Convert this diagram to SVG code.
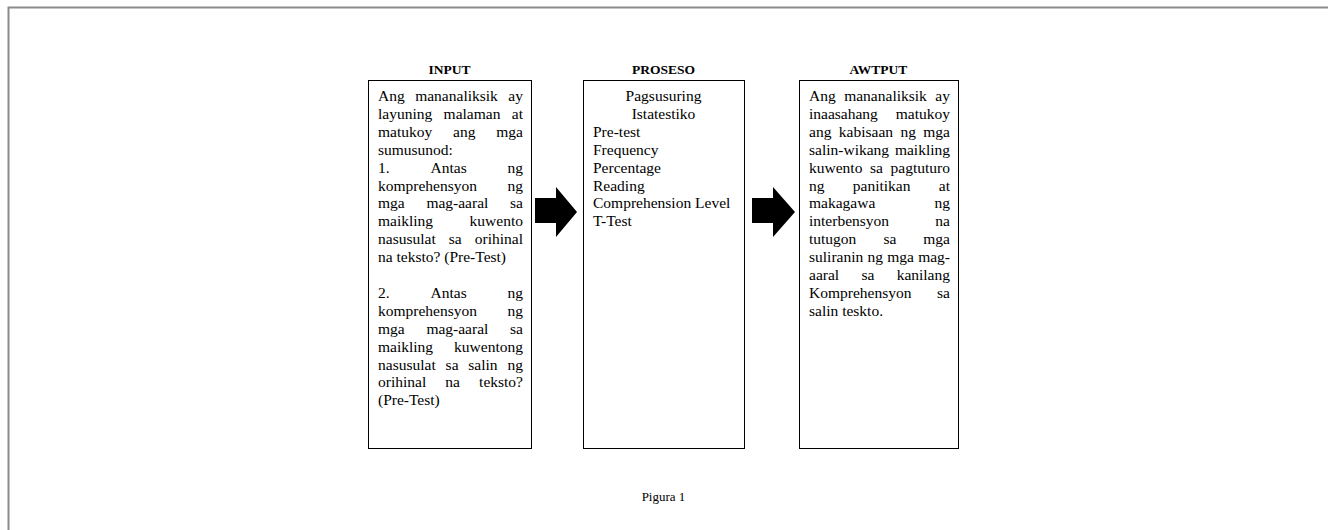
<svg xmlns="http://www.w3.org/2000/svg" width="1328" height="530" viewBox="0 0 1328 530">
<style>
.t{font-family:"Liberation Serif","Times New Roman",serif;font-size:15.5px;fill:#000}
.h{font-family:"Liberation Serif","Times New Roman",serif;font-size:13.5px;font-weight:bold;fill:#000;text-anchor:middle}
.c{font-family:"Liberation Serif","Times New Roman",serif;font-size:13px;fill:#000;text-anchor:middle}
.e{text-anchor:end}
.box{fill:#fff;stroke:#000;stroke-width:1}
.arr{fill:#000}
</style>
<rect width="1328" height="530" fill="#fff"/>
<path d="M8.5,530 V7.5 H1328" fill="none" stroke="#8a8a8a" stroke-width="2"/>
<text class="h" x="449.5" y="74">INPUT</text>
<text class="h" x="663.5" y="74">PROSESO</text>
<text class="h" x="878.5" y="74">AWTPUT</text>
<g id="input">
<rect class="box" x="368.5" y="80.5" width="163" height="368"/>
<text class="t" x="378" y="101">Ang</text><text class="t" x="415.2" y="101">mananaliksik</text><text class="t e" x="523" y="101">ay</text>
<text class="t" x="378" y="118.9">layuning</text><text class="t" x="443.6" y="118.9">malaman</text><text class="t e" x="523" y="118.9">at</text>
<text class="t" x="378" y="136.8">matukoy</text><text class="t" x="453.1" y="136.8">ang</text><text class="t e" x="523" y="136.8">mga</text>
<text class="t" x="378" y="154.7">sumusunod:</text>
<text class="t" x="378" y="172.6">1.</text><text class="t" x="430.5" y="172.6">Antas</text><text class="t e" x="523" y="172.6">ng</text>
<text class="t" x="378" y="190.5">komprehensyon</text><text class="t e" x="523" y="190.5">ng</text>
<text class="t" x="378" y="208.4">mga</text><text class="t" x="426.4" y="208.4">mag-aaral</text><text class="t e" x="523" y="208.4">sa</text>
<text class="t" x="378" y="226.3">maikling</text><text class="t e" x="523" y="226.3">kuwento</text>
<text class="t" x="378" y="244.2">nasusulat</text><text class="t" x="448.8" y="244.2">sa</text><text class="t e" x="523" y="244.2">orihinal</text>
<text class="t" x="378" y="262.1">na teksto? (Pre-Test)</text>
<text class="t" x="378" y="297.9">2.</text><text class="t" x="430.5" y="297.9">Antas</text><text class="t e" x="523" y="297.9">ng</text>
<text class="t" x="378" y="315.8">komprehensyon</text><text class="t e" x="523" y="315.8">ng</text>
<text class="t" x="378" y="333.7">mga</text><text class="t" x="426.4" y="333.7">mag-aaral</text><text class="t e" x="523" y="333.7">sa</text>
<text class="t" x="378" y="351.6">maikling</text><text class="t e" x="523" y="351.6">kuwentong</text>
<text class="t" x="378" y="369.5">nasusulat</text><text class="t" x="445.6" y="369.5">sa</text><text class="t" x="468.3" y="369.5">salin</text><text class="t e" x="523" y="369.5">ng</text>
<text class="t" x="378" y="387.4">orihinal</text><text class="t" x="445.3" y="387.4">na</text><text class="t e" x="523" y="387.4">teksto?</text>
<text class="t" x="378" y="405.3">(Pre-Test)</text>
</g>
<g id="proseso">
<rect class="box" x="583.5" y="80.5" width="161" height="368"/>
<text class="t" x="663.5" y="101" text-anchor="middle">Pagsusuring</text>
<text class="t" x="663.5" y="118.9" text-anchor="middle">Istatestiko</text>
<text class="t" x="593" y="136.8">Pre-test</text>
<text class="t" x="593" y="154.7">Frequency</text>
<text class="t" x="593" y="172.6">Percentage</text>
<text class="t" x="593" y="190.5">Reading</text>
<text class="t" x="593" y="208.4">Comprehension Level</text>
<text class="t" x="593" y="226.3">T-Test</text>
</g>
<g id="awtput">
<rect class="box" x="799.5" y="80.5" width="159" height="368"/>
<text class="t" x="809" y="101">Ang</text><text class="t" x="844.2" y="101">mananaliksik</text><text class="t e" x="950" y="101">ay</text>
<text class="t" x="809" y="118.9">inaasahang</text><text class="t e" x="950" y="118.9">matukoy</text>
<text class="t" x="809" y="136.8">ang</text><text class="t" x="838.8" y="136.8">kabisaan</text><text class="t" x="900.4" y="136.8">ng</text><text class="t e" x="950" y="136.8">mga</text>
<text class="t" x="809" y="154.7">salin-wikang</text><text class="t e" x="950" y="154.7">maikling</text>
<text class="t" x="809" y="172.6">kuwento</text><text class="t" x="870" y="172.6">sa</text><text class="t e" x="950" y="172.6">pagtuturo</text>
<text class="t" x="809" y="190.5">ng</text><text class="t" x="852.8" y="190.5">panitikan</text><text class="t e" x="950" y="190.5">at</text>
<text class="t" x="809" y="208.4">makagawa</text><text class="t e" x="950" y="208.4">ng</text>
<text class="t" x="809" y="226.3">interbensyon</text><text class="t e" x="950" y="226.3">na</text>
<text class="t" x="809" y="244.2">tutugon</text><text class="t" x="883.4" y="244.2">sa</text><text class="t e" x="950" y="244.2">mga</text>
<text class="t" x="809" y="262.1">suliranin</text><text class="t" x="867.5" y="262.1">ng</text><text class="t" x="887.2" y="262.1">mga</text><text class="t e" x="950" y="262.1">mag-</text>
<text class="t" x="809" y="280">aaral</text><text class="t" x="861.4" y="280">sa</text><text class="t e" x="950" y="280">kanilang</text>
<text class="t" x="809" y="297.9">Komprehensyon</text><text class="t e" x="950" y="297.9">sa</text>
<text class="t" x="809" y="315.8">salin teskto.</text>
</g>
<g id="connectors">
<polygon class="arr" points="535,198 556,198 556,187 577,212 556,237 556,223 535,223"/>
<polygon class="arr" points="752,198 773,198 773,187 795,212 773,237 773,223 752,223"/>
</g>
<text class="c" x="663.5" y="501">Pigura 1</text>
</svg>
